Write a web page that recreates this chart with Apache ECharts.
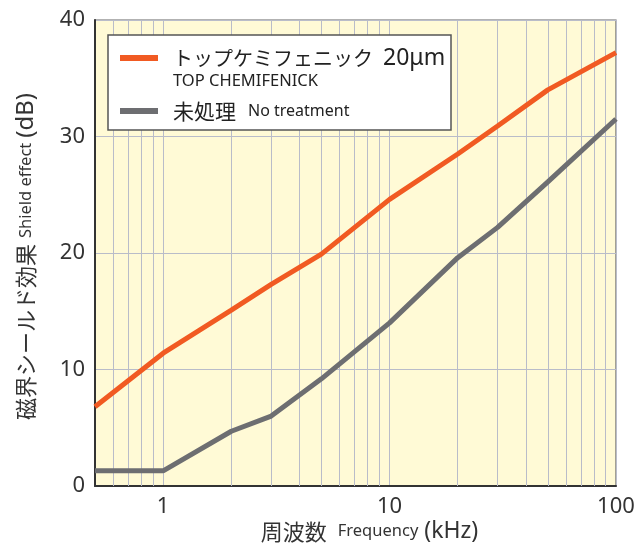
<!DOCTYPE html>
<html>
<head>
<meta charset="utf-8">
<script src="https://cdn.jsdelivr.net/npm/echarts@6/dist/echarts.min.js"></script>
<style>
html,body{margin:0;padding:0;background:#fff;}
#chart{width:640px;height:543px;}
</style>
</head>
<body>
<div id="chart"></div>
<script>
// Frequency (kHz)
var freq = [0.5, 1, 2, 3, 5, 10, 20, 30, 50, 100];
// Shield effect (dB)
var chemifenick = [6.8, 11.4, 15.1, 17.3, 19.9, 24.6, 28.5, 30.9, 34.0, 37.2];
var untreated = [1.3, 1.3, 4.7, 6.0, 9.2, 14.0, 19.6, 22.2, 26.1, 31.5];
// minor log grid positions
var minorGrid = [0.6, 0.7, 0.8, 0.9, 2, 3, 4, 5, 6, 7, 8, 9, 20, 30, 40, 50, 60, 70, 80, 90];
var seriesNames = ['トップケミフェニック 20μm', '未処理'];

function pairs(xs, ys) { return xs.map(function (x, i) { return [x, ys[i]]; }); }

var gridColor = '#b9bcc9';
var cjk = '"Noto Sans CJK JP", "Noto Sans", sans-serif';
var latin = '"Noto Sans", sans-serif';

var chart = echarts.init(document.getElementById('chart'));
chart.setOption({
  animation: false,
  textStyle: { fontFamily: cjk },
  grid: {
    left: 95, right: 24, top: 20, bottom: 57,
    outerBoundsMode: 'none', containLabel: false,
    show: true, backgroundColor: '#fffad6', borderColor: '#666', borderWidth: 1.2
  },
  graphic: [{
    type: 'rect', z: 3, silent: true,
    shape: { x: 108, y: 35, width: 343, height: 95 },
    style: { fill: '#ffffff', stroke: '#555555', lineWidth: 1.5 }
  }],
  legend: {
    orient: 'vertical', left: 120, top: 30, padding: 0, itemGap: 11, z: 5,
    selectedMode: false, icon: 'rect', itemWidth: 38, itemHeight: 6,
    data: seriesNames,
    formatter: function (name) {
      if (name === seriesNames[0]) {
        return '{s| }\n{k|トップケミフェニック}{n|20μm}\n{b|TOP CHEMIFENICK}';
      }
      return '{m|未処理}{c|No treatment}';
    },
    textStyle: {
      color: '#222',
      rich: {
        s: { fontSize: 10, lineHeight: 18 },
        k: { fontSize: 20, lineHeight: 28, color: '#222', fontFamily: cjk, padding: [0, 0, 0, 10] },
        n: { fontSize: 23, lineHeight: 28, color: '#222', fontFamily: latin, padding: [0, 0, 0, 10] },
        b: { fontSize: 16.5, lineHeight: 18, color: '#222', fontFamily: latin, padding: [0, 0, 0, 10] },
        m: { fontSize: 21, lineHeight: 28, color: '#222', fontFamily: cjk, padding: [0, 0, 0, 10] },
        c: { fontSize: 16, lineHeight: 28, color: '#222', fontFamily: latin, padding: [0, 0, 0, 12] }
      }
    }
  },
  xAxis: {
    type: 'log', logBase: 10, min: 0.5, max: 100,
    axisLine: { show: true, lineStyle: { color: '#333', width: 2 } },
    axisTick: { show: false },
    axisLabel: { fontSize: 22, color: '#333', margin: 10, showMinLabel: false, fontFamily: latin },
    splitLine: { show: true, lineStyle: { color: gridColor, width: 1 } },
    name: '{a|周波数}{b|Frequency}{c|(kHz)}',
    nameLocation: 'middle', nameGap: 34, nameMoveOverlap: false,
    nameTextStyle: {
      padding: [0, 0, 0, 28],
      rich: {
        a: { fontSize: 22, color: '#333', fontFamily: cjk },
        b: { fontSize: 16.5, color: '#333', fontFamily: latin, padding: [0, 6, 0, 11] },
        c: { fontSize: 23, color: '#333', fontFamily: latin }
      }
    }
  },
  yAxis: {
    type: 'value', min: 0, max: 40, interval: 10,
    axisLine: { show: true, lineStyle: { color: '#333', width: 2 } },
    axisTick: { show: false },
    axisLabel: { fontSize: 22, color: '#333', margin: 10, fontFamily: latin },
    splitLine: { show: true, lineStyle: { color: gridColor, width: 1 } },
    name: '{a|磁界シールド効果}{b|Shield effect}{c|(dB)}',
    nameLocation: 'middle', nameGap: 57, nameRotate: 90, nameMoveOverlap: false,
    nameTextStyle: {
      padding: [0, 7, 0, 0],
      rich: {
        a: { fontSize: 22, color: '#333', fontFamily: cjk },
        b: { fontSize: 16.5, color: '#333', fontFamily: latin, padding: [0, 5, 0, 6] },
        c: { fontSize: 24, color: '#333', fontFamily: latin }
      }
    }
  },
  series: [
    {
      name: seriesNames[0], type: 'line', data: pairs(freq, chemifenick),
      showSymbol: false, symbol: 'none', z: 2,
      color: '#f15a22',
      lineStyle: { color: '#f15a22', width: 5 }
    },
    {
      name: seriesNames[1], type: 'line', data: pairs(freq, untreated),
      showSymbol: false, symbol: 'none', z: 2,
      color: '#6d6e71',
      lineStyle: { color: '#6d6e71', width: 5 },
      markLine: {
        silent: true, z: 1, symbol: 'none', animation: false,
        label: { show: false },
        lineStyle: { color: gridColor, width: 1, type: 'solid' },
        emphasis: { disabled: true },
        data: minorGrid.map(function (v) { return { xAxis: v }; })
      }
    }
  ]
});
</script>
</body>
</html>
